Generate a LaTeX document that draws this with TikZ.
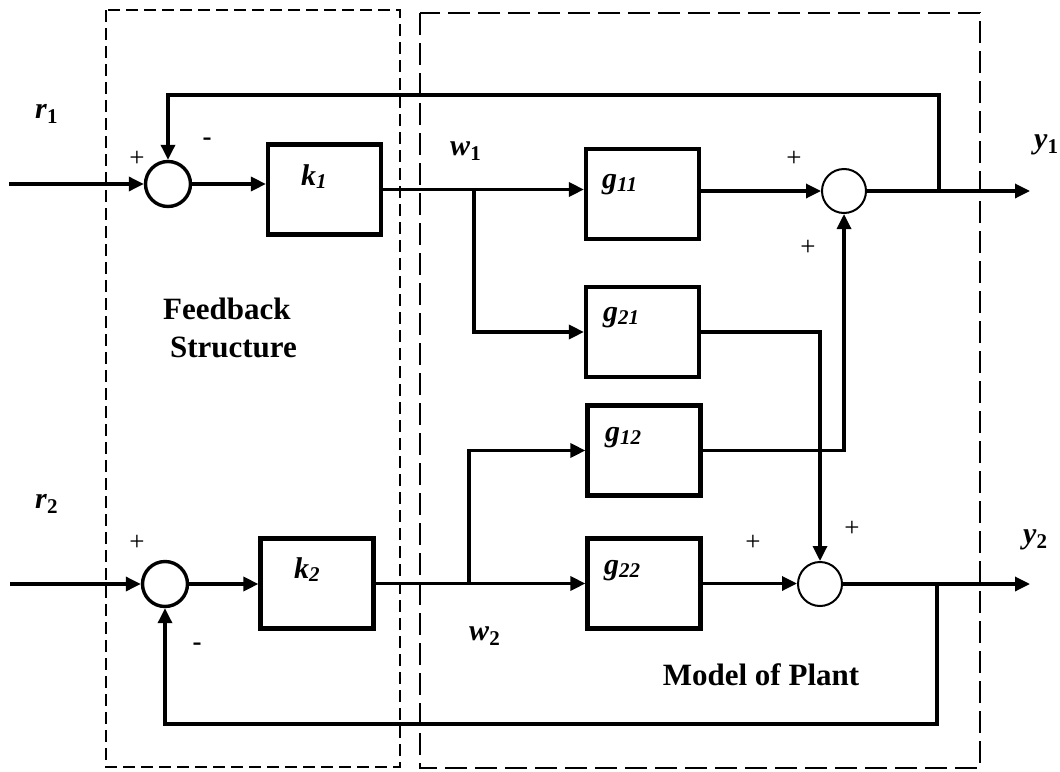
\documentclass[tikz,border=0pt]{standalone}
\usepackage{fontspec}
\setmainfont{Liberation Serif}
\usetikzlibrary{arrows.meta}

% signal with a bold subscript (r_1, w_1, y_1)
\newcommand{\vlab}[2]{\textbf{\textit{#1}}\raisebox{-5pt}{\fontsize{21}{21}\selectfont\bfseries #2}}
% block gain with an italic subscript (k_1, g_11)
\newcommand{\blab}[2]{\textbf{\textit{#1}}\raisebox{-3pt}{\fontsize{21}{21}\selectfont\bfseries\itshape #2}}

\tikzset{
  frameA/.style={dash pattern=on 12pt off 6pt, line width=2pt},
  frameB/.style={dash pattern=on 22pt off 8pt, line width=2.2pt},
  blk/.style={draw, line width=4.2pt, minimum width=113pt, minimum height=90pt, inner sep=0pt},
  sumA/.style={circle, draw, line width=3.4pt, minimum size=45pt, inner sep=0pt},
  sumB/.style={circle, draw, line width=2pt, minimum size=44pt, inner sep=0pt},
  sig/.style={line width=3.3pt, -{Triangle[length=15pt,width=14pt]}},
  lbl/.style={inner sep=0pt, anchor=base west, font=\fontsize{30}{32}\selectfont},
  sgn/.style={inner sep=0pt, font=\fontsize{27}{29}\selectfont},
  title/.style={inner sep=0pt, font=\fontsize{31}{38}\selectfont\bfseries},
}

\begin{document}
\begin{tikzpicture}[x=1pt,y=-1pt]
\useasboundingbox (0,0) rectangle (1060,771);

% dashed frames: controller and plant
\draw[frameA] (106,10) rectangle (400,767);
\draw[frameB] (420,13) rectangle (980,768);

% summing junctions
\node[sumA] (s1) at (168,184) {};
\node[sumA] (s3) at (165,584) {};
\node[sumB] (s2) at (844,191) {};
\node[sumB] (s4) at (820,584) {};

% blocks
\node[blk] (k1) at (324.5,189.5) {};
\node[blk] (k2) at (317,583.5) {};
\node[blk] (g11) at (642.5,194) {};
\node[blk] (g21) at (642.5,332) {};
\node[blk] (g12) at (644,450.5) {};
\node[blk] (g22) at (644,583.5) {};

% block texts
\node[lbl] (tk1) at (301,185) {\blab{k}{1}};
\node[lbl] (tk2) at (294,578) {\blab{k}{2}};
\node[lbl] (tg11) at (602,188) {\blab{g}{11}};
\node[lbl] (tg21) at (603,321) {\blab{g}{21}};
\node[lbl] (tg12) at (605,441) {\blab{g}{12}};
\node[lbl] (tg22) at (604,574) {\blab{g}{22}};

% signal names
\node[lbl] (r1) at (35,118) {\vlab{r}{1}};
\node[lbl] (r2) at (35,508) {\vlab{r}{2}};
\node[lbl] (w1) at (450,155) {\vlab{w}{1}};
\node[lbl] (w2) at (469,640) {\vlab{w}{2}};
\node[lbl] (y1) at (1034,148) {\vlab{y}{1}};
\node[lbl] (y2) at (1023,543) {\vlab{y}{2}};

% signs at the junctions
\node[sgn] (p1) at (137,159) {+};
\node[sgn] (m1) at (207,142) {\textbf{-}};
\node[sgn] (p2) at (794,159) {+};
\node[sgn] (p3) at (808,248) {+};
\node[sgn] (p4) at (137,543) {+};
\node[sgn] (m2) at (197,647) {\textbf{-}};
\node[sgn] (p5) at (753,543) {+};
\node[sgn] (p6) at (852,529) {+};

% frame titles
\node[title, align=left] (fs) at (230,328) {Feedback\\\hspace*{7pt}Structure};
\node[title] (mp) at (761,675) {Model of Plant};

% free ends, branch and tap points
\coordinate (in1) at (9,184);
\coordinate (in2) at (10,584);
\coordinate (out1) at (1030,191);
\coordinate (out2) at (1030,584);
\coordinate (j1) at (474,189.5);
\coordinate (j2) at (469,583.5);
\coordinate (t1) at (939,191);
\coordinate (fb1) at (939,95);
\coordinate (t2) at (937,584);
\coordinate (fb2) at (937,724);

% loop 1
\draw[sig] (in1) -- (s1.west);
\draw[sig] (s1.east) -- (s1.east -| k1.west);
\draw[sig] (k1.east) -- (k1.east -| g11.west);
\draw[sig] (j1) |- (g21.west);
\draw[sig] (g11.east |- s2) -- (s2.west);
\draw[sig] (s2.east) -- (out1);
\draw[sig] (t1) -- (fb1) -| (s1.north);

% loop 2
\draw[sig] (in2) -- (s3.west);
\draw[sig] (s3.east) -- (s3.east -| k2.west);
\draw[sig] (k2.east) -- (k2.east -| g22.west);
\draw[sig] (j2) |- (g12.west);
\draw[sig] (g22.east) -- (g22.east -| s4.west);
\draw[sig] (s4.east) -- (out2);
\draw[sig] (t2) -- (fb2) -| (s3.south);

% cross couplings
\draw[sig] (g21.east) -| (s4.north);
\draw[sig] (g12.east) -| (s2.south);
\end{tikzpicture}
\end{document}
